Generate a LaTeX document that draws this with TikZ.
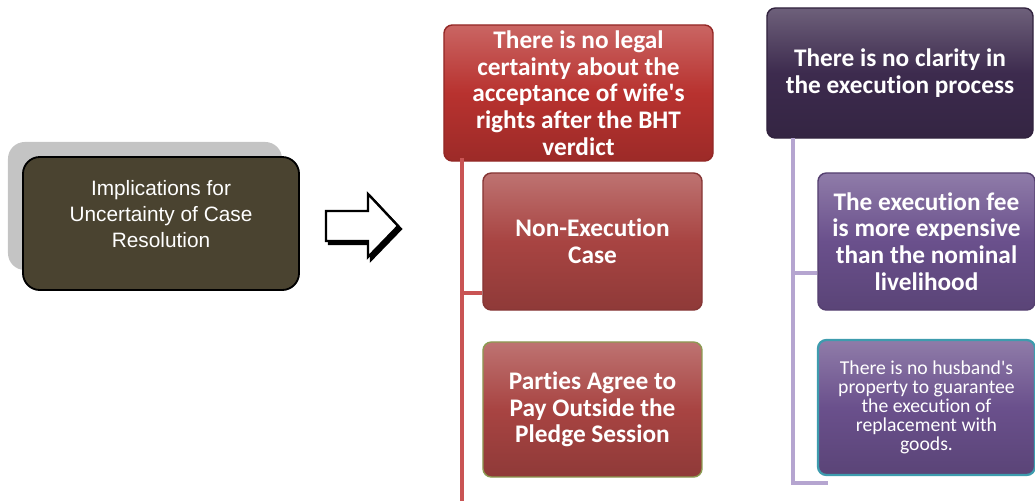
\documentclass[tikz,border=0pt]{standalone}
\usepackage{fontspec}
\setsansfont[Ligatures=NoCommon]{Carlito}
\newfontfamily\boxfont{Liberation Sans}
\usetikzlibrary{arrows.meta, positioning, calc}
\definecolor{colive}{HTML}{4A4330}
\definecolor{cshade}{HTML}{C4C4C4}
\definecolor{cred}{HTML}{B8322F}
\definecolor{credmid}{HTML}{A84442}
\definecolor{credline}{HTML}{C95454}
\definecolor{cplum}{HTML}{3D2B4E}
\definecolor{cviolet}{HTML}{6A508C}
\definecolor{clav}{HTML}{B5A5D0}
\definecolor{cmoss}{HTML}{8C9A52}
\definecolor{cteal}{HTML}{3E9CAE}
\tikzset{
  every picture/.style={font=\sffamily, line width=1pt},
  card/.style={draw=#1!80!black, top color=#1!75!white, bottom color=#1!85!black, middle color=#1, rounded corners=6pt, align=center, text=white, inner sep=4pt},
  card/.default=cred,
  heading/.style={font=\sffamily\bfseries\fontsize{18}{19}\selectfont},
  trunk/.style={line width=2.8pt},
}
\begin{document}
\begin{tikzpicture}[x=0.025cm, y=-0.025cm]
  \useasboundingbox (0,0) rectangle (1035,501);
  % left: implications box with its grey shadow
  \node[fill=cshade, rounded corners=12pt, minimum width=6.85cm, minimum height=3.2cm] (shade) at (145,206) {};
  \node[draw=black, fill=colive, line width=1.3pt, rounded corners=12pt, minimum width=6.9cm, minimum height=3.325cm] (impl) at (161,223.5) {};
  \node[font=\boxfont\fontsize{14.8}{18.5}\selectfont, text=white, align=center] (impltext) at (161,214) {Implications for\\Uncertainty of Case\\Resolution};
  % block arrow
  \foreach \dx/\col in {3/black, 0/white} {
    \draw[fill=\col, line width=1.6pt, line join=miter] ($(326,211)+(\dx,\dx)$) -- ++(42,0) -- ++(0,-17) -- ++(30,32) -- ++(-30,31) -- ++(0,-16) -- ++(-42,0) -- cycle;
  }
  % red column
  \node[card=cred, heading, minimum width=6.725cm, minimum height=3.25cm] (legal) at (578.5,93) {There is no legal\\certainty about the\\acceptance of wife\textquotesingle s\\rights after the BHT\\verdict};
  \node[card=credmid, heading, minimum width=5.475cm, minimum height=3.425cm] (nonexec) at (592.5,241.5) {Non-Execution\\Case};
  \node[card=credmid, draw=cmoss, heading, minimum width=5.475cm, minimum height=3.375cm] (parties) at (592.5,409.5) {Parties Agree to\\Pay Outside the\\Pledge Session};
  \coordinate (rtop) at (462,158);
  \coordinate (rend) at (462,501);
  \draw[trunk, credline] (rtop) -- (rend);
  \draw[trunk, credline] (rtop |- 0,293) -- (nonexec.west |- 0,293);
  % purple column
  \node[card=cplum, heading, minimum width=6.65cm, minimum height=3.25cm] (clarity) at (900,73) {There is no clarity in\\the execution process};
  \node[card=cviolet, heading, minimum width=5.425cm, minimum height=3.425cm] (fee) at (926.5,241.5) {The execution fee\\is more expensive\\than the nominal\\livelihood};
  \node[card=cviolet, draw=cteal, line width=1.6pt, font=\sffamily\fontsize{14}{13.6}\selectfont, minimum width=5.425cm, minimum height=3.375cm] (property) at (926.5,407.5) {There is no husband\textquotesingle s\\property to guarantee\\the execution of\\replacement with\\goods.};
  \coordinate (ptop) at (793,138);
  \coordinate (pend) at (793,483);
  \draw[trunk, clav] (ptop) -- (pend) -- ++(35,0);
  \draw[trunk, clav] (ptop |- 0,273) -- (fee.west |- 0,273);
\end{tikzpicture}
\end{document}
